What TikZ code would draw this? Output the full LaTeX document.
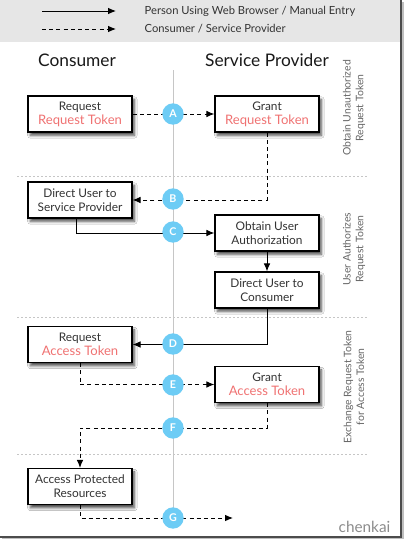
\documentclass[tikz,border=0pt]{standalone}
\usepackage{fontspec}
\setmainfont{Lato}
\usetikzlibrary{arrows.meta,shadows.blur,calc}
\definecolor{tokred}{HTML}{F07272}
\definecolor{circblue}{HTML}{6DCCF5}
\definecolor{txtgray}{HTML}{333333}
\definecolor{hdrgray}{HTML}{E6E6E6}
\begin{document}
\begin{tikzpicture}[x=0.75pt,y=-0.75pt,
  box/.style={draw=black,line width=0.9pt,fill=white,minimum width=78pt,minimum height=27pt,
    align=center,font=\fontsize{8.9}{10.6}\selectfont,text=txtgray,inner sep=1pt,
    blur shadow={shadow xshift=1.8pt,shadow yshift=-2.6pt,shadow blur steps=6,shadow opacity=70}},
  stepcirc/.style={circle,fill=circblue,minimum size=16pt,inner sep=0pt,text=white,
    font=\fontsize{8}{8}\selectfont\bfseries},
  conn/.style={line width=0.75pt,-{Latex[length=6pt,width=5pt]}},
  dconn/.style={conn,dash pattern=on 3pt off 2.4pt},
  sep/.style={gray!45,line width=0.4pt,dash pattern=on 1.5pt off 1.5pt},
  side/.style={rotate=90,align=center,font=\fontsize{7.8}{9.6}\selectfont,text=black!60},
  title/.style={font=\fontsize{13}{15}\selectfont,text=black!90},
  legend/.style={anchor=west,font=\fontsize{8.4}{10}\selectfont,text=txtgray}]
\useasboundingbox (0,0) rectangle (404,539);
\fill[white] (0,0) rectangle (404,539);
% header
\fill[hdrgray] (0,0) rectangle (400,42);
% frame
\draw[black!70,line width=1.5pt] (401,0) -- (401,537) -- (0,537);
\draw[black!25,line width=1pt] (403,2) -- (403,539) -- (2,539);
% legend
\coordinate (l1a) at (42,11); \coordinate (l1b) at (116,11);
\coordinate (l2a) at (42,29); \coordinate (l2b) at (116,29);
\draw[conn] (l1a) -- (l1b);
\draw[dconn] (l2a) -- (l2b);
\node[legend] (lt1) at (140,11) {Person Using Web Browser / Manual Entry};
\node[legend] (lt2) at (140,29) {Consumer / Service Provider};
% titles
\node[title] (tcons) at (77,60) {Consumer};
\node[title] (tsp) at (267,60) {Service Provider};
% center line and separators
\coordinate (ctop) at (173,70); \coordinate (cbot) at (173,510);
\draw[gray!45,line width=0.5pt] (ctop) -- (cbot);
\coordinate (s1a) at (17,176); \coordinate (s1b) at (368,176);
\coordinate (s2a) at (17,317); \coordinate (s2b) at (368,317);
\coordinate (s3a) at (17,454); \coordinate (s3b) at (368,454);
\draw[sep] (s1a) -- (s1b);
\draw[sep] (s2a) -- (s2b);
\draw[sep] (s3a) -- (s3b);
% side labels
\node[side] (sl1) at (354,108) {Obtain Unauthorized\\Request Token};
\node[side] (sl2) at (354,249) {User Authorizes\\Request Token};
\node[side] (sl3) at (354,387) {Exchange Request Token\\for Access Token};
% boxes
\node[box] (rrt) at (80,114) {Request\\\textcolor{tokred}{\fontsize{9.8}{11.5}\selectfont Request Token}};
\node[box] (grt) at (267,114) {Grant\\\textcolor{tokred}{\fontsize{9.8}{11.5}\selectfont Request Token}};
\node[box] (dusp) at (80,200) {Direct User to\\Service Provider};
\node[box] (oua) at (267,233) {Obtain User\\Authorization};
\node[box] (duc) at (267,290) {Direct User to\\Consumer};
\node[box] (rat) at (80,344.5) {Request\\\textcolor{tokred}{\fontsize{9.8}{11.5}\selectfont Access Token}};
\node[box] (gat) at (267,384.5) {Grant\\\textcolor{tokred}{\fontsize{9.8}{11.5}\selectfont Access Token}};
\node[box] (apr) at (80,486.5) {Access Protected\\Resources};
% connectors
\draw[dconn] (rrt.east) -- (grt.west);
\draw[dconn] (grt.south) |- (dusp.east);
\draw[conn] ([xshift=-3pt]dusp.south) |- (oua.west);
\draw[conn] (oua.south) -- (duc.north);
\draw[conn] (duc.south) |- (rat.east);
\draw[dconn] (rat.south) |- (gat.west);
\coordinate (fl) at (80,428);
\draw[dconn] (gat.south) |- (fl) -- (apr.north);
\coordinate (gend) at (233,518);
\draw[dconn] (apr.south) |- (gend);
% step circles
\node[stepcirc] (A) at (173,114) {A};
\node[stepcirc] (B) at (173,199) {B};
\node[stepcirc] (C) at (173,232) {C};
\node[stepcirc] (D) at (173,344) {D};
\node[stepcirc] (E) at (173,385) {E};
\node[stepcirc] (F) at (173,428) {F};
\node[stepcirc] (G) at (173,518) {G};
% watermark
\node[font=\fontsize{11.5}{12}\selectfont,text=black!45,anchor=east] (wm) at (395,527) {chenkai};
\end{tikzpicture}
\end{document}
